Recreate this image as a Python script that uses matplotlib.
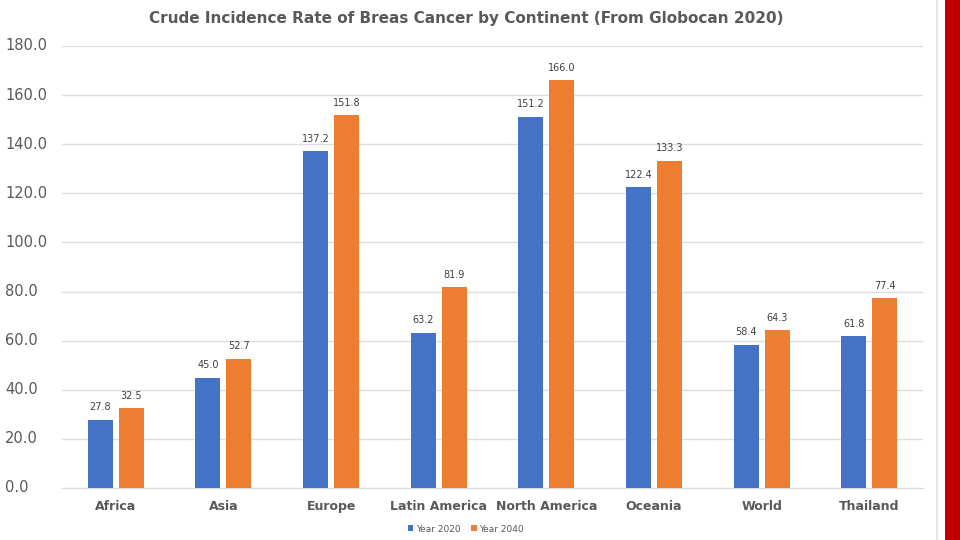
import numpy as np
import matplotlib
matplotlib.use('Agg')
import matplotlib.pyplot as plt
import matplotlib.transforms as mtransforms
from matplotlib.patches import Rectangle

regions = ["Africa", "Asia", "Europe", "Latin America", "North America",
           "Oceania", "World", "Thailand"]
year_2020 = [27.8, 45.0, 137.2, 63.2, 151.2, 122.4, 58.4, 61.8]
year_2040 = [32.5, 52.7, 151.8, 81.9, 166.0, 133.3, 64.3, 77.4]
yticks = [0, 20, 40, 60, 80, 100, 120, 140, 160, 180]

BLUE = "#4472C4"
ORANGE = "#ED7D31"
GREY = "#595959"

fig = plt.figure(figsize=(9.6, 5.4), dpi=100)
fig.patch.set_facecolor("white")

# red strip + faint line on the right edge of the slide
fig.patches.append(Rectangle((945 / 960, 0), 15 / 960, 1, transform=fig.transFigure,
                             facecolor="#C00000", edgecolor="none", zorder=5))
fig.add_artist(plt.Line2D([937 / 960, 937 / 960], [0, 1], transform=fig.transFigure,
                          color="#e4e4e4", lw=1.2))

ax = fig.add_axes([62 / 960, 52 / 540, 861 / 960, 442 / 540])

x = np.arange(len(regions))
w = 0.232
off = 0.144
b1 = ax.bar(x - off, year_2020, w, color=BLUE, label="Year 2020", zorder=3)
b2 = ax.bar(x + off, year_2040, w, color=ORANGE, label="Year 2040", zorder=3)

for bars, vals in ((b1, year_2020), (b2, year_2040)):
    for r, v in zip(bars, vals):
        ax.text(r.get_x() + r.get_width() / 2, v + 3, "%.1f" % v,
                ha="center", va="bottom", fontsize=7, color="#404040")

ax.set_xlim(-0.5, len(regions) - 0.5)
ax.set_ylim(0, 180)
ax.set_yticks(yticks)
ax.set_yticklabels([])
# y labels are left aligned near the slide edge
trans = mtransforms.blended_transform_factory(fig.transFigure, ax.transData)
for t in yticks:
    ax.text(5 / 960, t, "%.1f" % t, transform=trans, ha="left", va="center",
            fontsize=10.5, color=GREY)
ax.set_xticks(x)
ax.set_xticklabels(regions, fontsize=9, fontweight="bold", color=GREY)
ax.tick_params(axis="both", length=0)
ax.tick_params(axis="x", pad=15.5)
for lab in ax.get_xticklabels():
    lab.set_verticalalignment("baseline")

ax.grid(axis="y", color="#dedede", lw=1, zorder=0)
for s in ["top", "right", "left"]:
    ax.spines[s].set_visible(False)
ax.spines["bottom"].set_color("#d9d9d9")

fig.text(466 / 960, 1 - 18 / 540,
         "Crude Incidence Rate of Breas Cancer by Continent (From Globocan 2020)",
         ha="center", va="center", fontsize=11, fontweight="bold", color=GREY)

fig.legend(handles=[b1, b2], loc="center", bbox_to_anchor=(466 / 960, 1 - 529 / 540),
           ncol=2, frameon=False, fontsize=6.5, handlelength=0.6, handleheight=0.6,
           columnspacing=1.2, handletextpad=0.3, labelcolor=GREY)

plt.savefig("out.png", dpi=100)
